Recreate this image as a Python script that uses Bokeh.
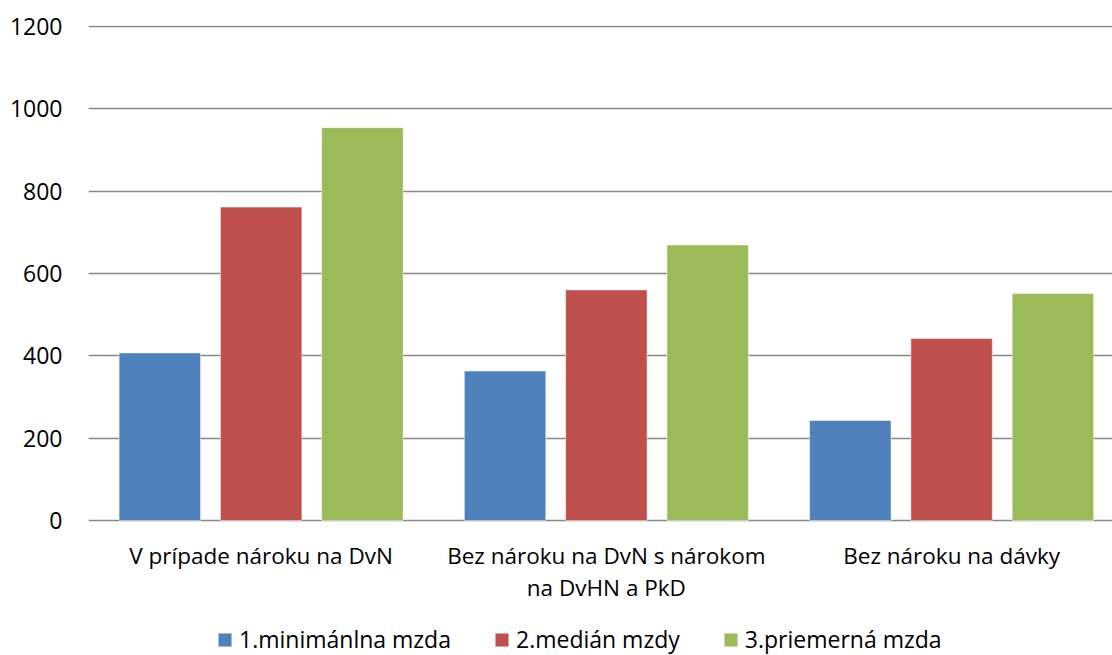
from bokeh.plotting import figure
from bokeh.models import Range1d, Legend, LegendItem, FixedTicker, ColumnDataSource
from bokeh.core.properties import value
from bokeh.transform import dodge
from bokeh.embed import file_html
from bokeh.resources import INLINE

categories = ["V prípade nároku na DvN", "Bez nároku na DvN s nárokom\nna DvHN a PkD", "Bez nároku na dávky"]
series_names = ["1.minimánlna mzda", "2.medián mzdy", "3.priemerná mzda"]
minimalna = [407, 363, 243]
median = [761, 560, 442]
priemerna = [954, 669, 551]
colors = ["#4F81BD", "#C0504D", "#9BBB59"]
y_ticks = [0, 200, 400, 600, 800, 1000, 1200]

FONT = "Open Sans"
GRID = "#868686"

xpos = [i + 0.5 for i in range(len(categories))]
src = ColumnDataSource(dict(x=xpos, cat=categories, base=[0] * len(categories),
                            s1=minimalna, s2=median, s3=priemerna))

# frame spans the whole lower area (axis labels + legend live inside it, below y=0)
p = figure(x_range=Range1d(0, 2.966), y_range=Range1d(-327.8, 1202),
           width=1112, height=655, output_backend="svg", toolbar_location=None,
           min_border_left=88, min_border_right=0, min_border_top=25, min_border_bottom=0)
p.outline_line_color = None
p.background_fill_color = "white"

renderers = []
for i, (col, c) in enumerate(zip(["s1", "s2", "s3"], colors)):
    r = p.vbar(x=dodge("x", (i - 1) * 0.2934), top=col, width=0.236,
               source=src, fill_color=c, line_color="white", line_alpha=0.5, line_width=1)
    renderers.append(r)

# category labels under the zero line
p.text(x="x", y="base", text="cat", source=src, text_align="center", text_baseline="top",
       y_offset=19, text_font=value(FONT), text_font_size="22.5px", text_color="black",
       text_line_height=1.06)

p.xaxis.visible = False
p.xgrid.grid_line_color = None
p.ygrid.grid_line_color = GRID
p.ygrid.grid_line_width = 1.3
p.yaxis.ticker = FixedTicker(ticks=y_ticks)
p.yaxis.axis_line_color = None
p.yaxis.major_tick_line_color = None
p.yaxis.major_tick_out = 0
p.yaxis.major_tick_in = 0
p.yaxis.minor_tick_line_color = None
p.yaxis.major_label_text_font = FONT
p.yaxis.major_label_text_font_size = "23px"
p.yaxis.major_label_text_color = "black"
p.yaxis.major_label_standoff = 26

legend = Legend(items=[LegendItem(label=n, renderers=[r]) for n, r in zip(series_names, renderers)],
                orientation="horizontal", location=(128, 0), border_line_color=None,
                background_fill_alpha=0, padding=0, margin=0, spacing=42,
                glyph_width=17, glyph_height=17, label_standoff=6,
                label_text_font=FONT, label_text_font_size="23px", label_text_color="black")
p.add_layout(legend, "center")

open("out.html", "w").write(file_html(p, INLINE))
